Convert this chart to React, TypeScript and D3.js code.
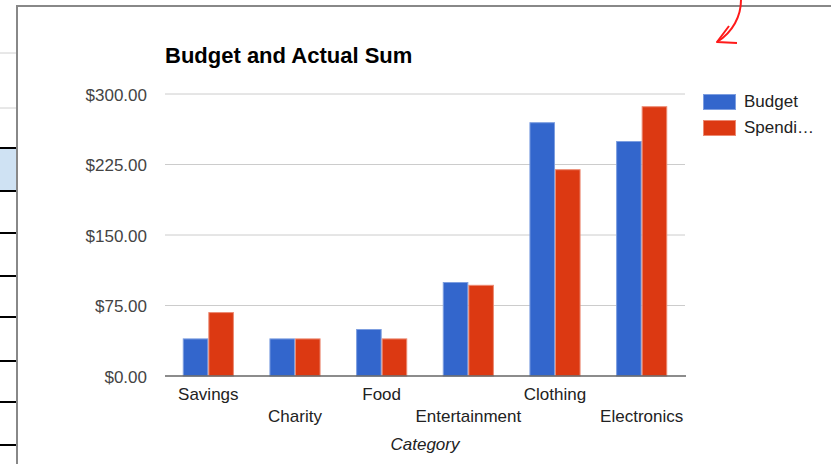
import React, { useEffect, useRef } from 'react';
import * as d3 from 'd3';

const categories = ['Savings', 'Charity', 'Food', 'Entertainment', 'Clothing', 'Electronics'];
const seriesNames = ['Budget', 'Spending'];
const legendLabels = ['Budget', 'Spendi…'];
const budget = [40, 40, 50, 100, 270, 250];
const spending = [68, 40, 40, 97, 220, 287];
const yTicks = [0, 75, 150, 225, 300];

const colors = ['#3366cc', '#dc3912'];
const strokes = ['#7d9ee0', '#ec8a72'];

const App: React.FC = () => {
  const chartRef = useRef<SVGSVGElement>(null);

  useEffect(() => {
    const svg = d3.select(chartRef.current);
    svg.selectAll('*').remove();

    const font = '"Liberation Sans", Arial, sans-serif';
    const left = 165, right = 685, top = 94, bottom = 376;

    // spreadsheet bits peeking out behind the chart
    const bg = svg.append('g');
    bg.append('rect').attr('x', 0).attr('y', 148).attr('width', 17).attr('height', 43).attr('fill', '#cfe2f3');
    [53, 108].forEach(y => {
      bg.append('line').attr('x1', 0).attr('x2', 17).attr('y1', y).attr('y2', y)
        .attr('stroke', '#d0d0d0').attr('stroke-width', 1);
    });
    [148, 191, 233, 276, 317, 361, 402, 445].forEach(y => {
      bg.append('line').attr('x1', 0).attr('x2', 17).attr('y1', y).attr('y2', y)
        .attr('stroke', '#000').attr('stroke-width', 2);
    });

    // chart frame
    svg.append('path').attr('d', 'M17,464 L17,6 L831,6')
      .attr('fill', 'none').attr('stroke', '#888').attr('stroke-width', 2);

    // red annotation arrow
    svg.append('path').attr('d', 'M741,0 C741,16 733,32 717,42')
      .attr('fill', 'none').attr('stroke', '#ff1a1a').attr('stroke-width', 2);
    svg.append('path').attr('d', 'M729,26 L717,42 L737,43')
      .attr('fill', 'none').attr('stroke', '#ff1a1a').attr('stroke-width', 2)
      .attr('stroke-linejoin', 'round');

    svg.append('text')
      .attr('x', left).attr('y', 63)
      .attr('font-family', font).attr('font-size', 22).attr('font-weight', 'bold')
      .attr('fill', '#000')
      .text('Budget and Actual Sum');

    const x = d3.scaleBand<string>().domain(categories).range([left, right])
      .paddingInner(0.41).paddingOuter(0.205);
    const xs = d3.scaleBand<string>().domain(seriesNames).range([0, x.bandwidth()]);
    const y = d3.scaleLinear().domain([0, 300]).range([bottom, top]);
    const fmt = d3.format('$,.2f');

    const grid = svg.append('g');
    yTicks.forEach(t => {
      if (t > 0) {
        grid.append('line').attr('x1', left).attr('x2', right).attr('y1', y(t)).attr('y2', y(t))
          .attr('stroke', '#cccccc').attr('stroke-width', 1);
      }
      grid.append('text')
        .attr('x', 147).attr('y', y(t) + 6.5)
        .attr('text-anchor', 'end')
        .attr('font-family', font).attr('font-size', 17).attr('fill', '#444')
        .text(fmt(t));
    });

    const data = categories.map((c, i) => ({ c, values: [budget[i], spending[i]] }));
    const groups = svg.selectAll('.grp').data(data).enter().append('g')
      .attr('transform', d => `translate(${x(d.c)},0)`);
    groups.selectAll('rect')
      .data(d => d.values.map((v, k) => ({ v, k })))
      .enter().append('rect')
      .attr('x', d => (xs(seriesNames[d.k]) ?? 0) + 0.5)
      .attr('y', d => y(d.v) + 0.5)
      .attr('width', xs.bandwidth() - 1)
      .attr('height', d => bottom - y(d.v) - 0.5)
      .attr('fill', d => colors[d.k])
      .attr('stroke', d => strokes[d.k])
      .attr('stroke-width', 1);

    svg.append('line').attr('x1', left).attr('x2', right + 1).attr('y1', bottom).attr('y2', bottom)
      .attr('stroke', '#666').attr('stroke-width', 1.5);

    categories.forEach((c, i) => {
      svg.append('text')
        .attr('x', (x(c) ?? 0) + x.bandwidth() / 2)
        .attr('y', i % 2 === 0 ? 400 : 422)
        .attr('text-anchor', 'middle')
        .attr('font-family', font).attr('font-size', 17).attr('fill', '#222')
        .text(c);
    });

    svg.append('text')
      .attr('x', (left + right) / 2).attr('y', 450)
      .attr('text-anchor', 'middle')
      .attr('font-family', font).attr('font-size', 17).attr('font-style', 'italic').attr('fill', '#222')
      .text('Category');

    legendLabels.forEach((l, i) => {
      const ly = 94 + i * 26;
      svg.append('rect').attr('x', 703.5).attr('y', ly + 0.5).attr('width', 32).attr('height', 15)
        .attr('fill', colors[i]).attr('stroke', strokes[i]).attr('stroke-width', 1);
      svg.append('text').attr('x', 744).attr('y', ly + 13)
        .attr('font-family', font).attr('font-size', 17).attr('fill', '#222')
        .text(l);
    });
  }, []);

  return (
    <svg ref={chartRef} width="831" height="464"
      style={{ position: 'absolute', left: 0, top: 0, background: '#fff' }}></svg>
  );
};

export default App;
